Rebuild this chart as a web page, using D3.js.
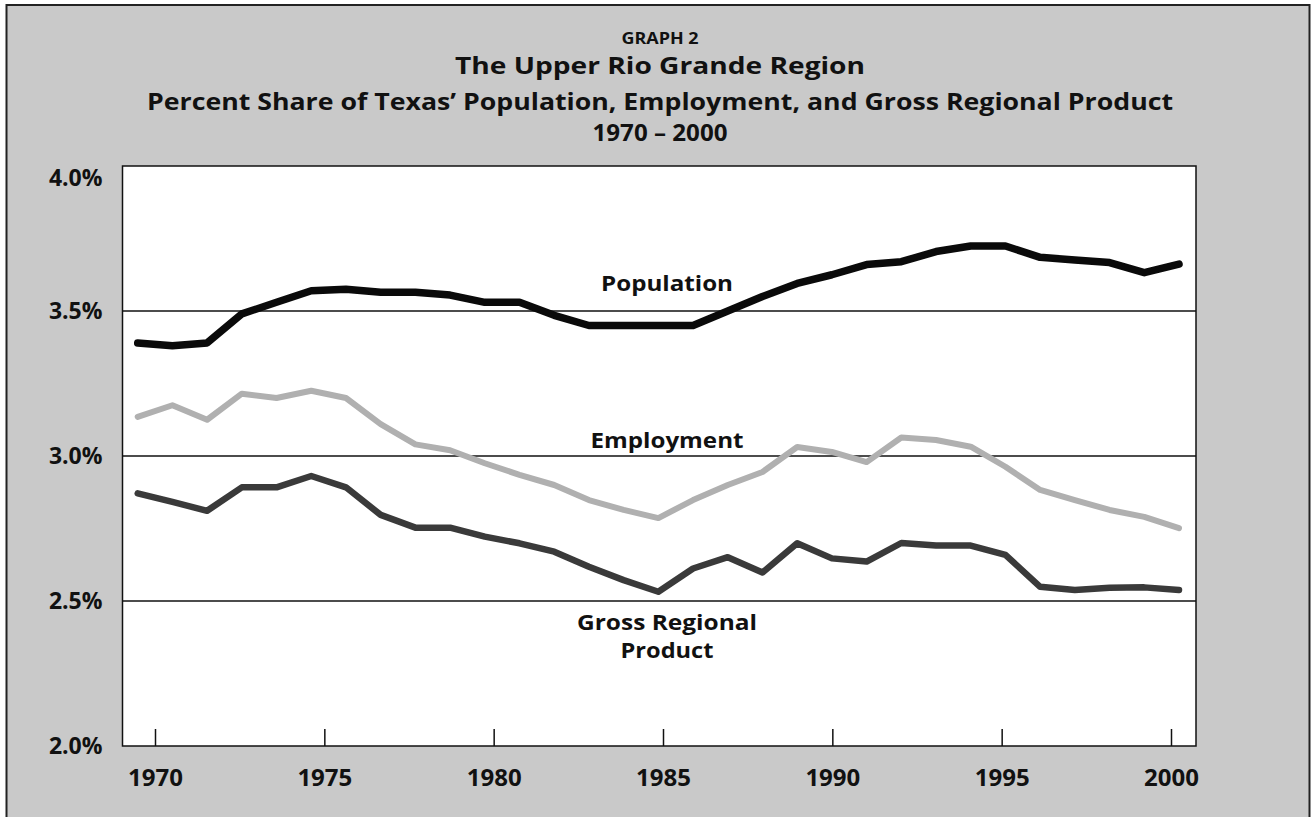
<!DOCTYPE html>
<html>
<head>
<meta charset="utf-8">
<script src="https://cdn.jsdelivr.net/npm/d3@7"></script>
<style>
  body { margin: 0; background: #fff; }
  svg { display: block; font-family: "Open Sans", "Noto Sans", sans-serif; font-weight: 700; }
</style>
</head>
<body>
<svg id="canvas" width="1315" height="817"></svg>
<script>
// values (percent share of Texas)
var years = [1970, 1971, 1972, 1973, 1974, 1975, 1976, 1977, 1978, 1979,
             1980, 1981, 1982, 1983, 1984, 1985, 1986, 1987, 1988, 1989,
             1990, 1991, 1992, 1993, 1994, 1995, 1996, 1997, 1998, 1999, 2000];

var population = [3.39, 3.38, 3.39, 3.49, 3.53, 3.57, 3.575, 3.565, 3.565, 3.555,
                  3.53, 3.53, 3.485, 3.45, 3.45, 3.45, 3.45, 3.50, 3.55, 3.595,
                  3.625, 3.66, 3.67, 3.705, 3.724, 3.724, 3.685, 3.676, 3.667, 3.632, 3.662];

var employment = [3.135, 3.175, 3.125, 3.215, 3.20, 3.225, 3.20, 3.11, 3.04, 3.02,
                  2.975, 2.935, 2.90, 2.848, 2.814, 2.786, 2.848, 2.90, 2.945, 3.031,
                  3.014, 2.979, 3.064, 3.055, 3.032, 2.963, 2.883, 2.848, 2.814, 2.79, 2.751];

var grp = [2.871, 2.842, 2.811, 2.892, 2.892, 2.931, 2.892, 2.797, 2.753, 2.753,
           2.722, 2.699, 2.67, 2.618, 2.572, 2.532, 2.612, 2.651, 2.598, 2.699,
           2.647, 2.636, 2.70, 2.691, 2.691, 2.659, 2.549, 2.538, 2.546, 2.547, 2.538];

var xTicks = [1970, 1975, 1980, 1985, 1990, 1995, 2000];
var yTicks = [2.0, 2.5, 3.0, 3.5, 4.0];
var gridValues = [2.5, 3.0, 3.5];

var titleLines = ["GRAPH 2",
                  "The Upper Rio Grande Region",
                  "Percent Share of Texas\u2019 Population, Employment, and Gross Regional Product",
                  "1970 \u2013 2000"];

var series = [
  { name: "Employment", values: employment, color: "#b0b0b0", width: 6 },
  { name: "Gross Regional Product", values: grp, color: "#3a3a3a", width: 6.5 },
  { name: "Population", values: population, color: "#0a0a0a", width: 7.5 }
];

var seriesLabels = [
  { lines: ["Population"], value: 3.5, dy: [-20], widths: [132] },
  { lines: ["Employment"], value: 3.0, dy: [-8], widths: [153] },
  { lines: ["Gross Regional", "Product"], value: 2.5, dy: [29, 57], widths: [180, 93] }
];

var svg = d3.select("#canvas");
var plot = { left: 122.5, right: 1196, top: 166, bottom: 746 };

// the scanned chart has its data points spread slightly wider than the tick marks
var x = d3.scaleLinear().domain([1970, 2000]).range([137.7, 1179]);
var xAxisScale = d3.scaleLinear().domain([1970, 2000]).range([155, 1171]);
var y = d3.scaleLinear().domain([2.0, 4.0]).range([plot.bottom, plot.top]);

// grey panel
svg.append("rect")
  .attr("x", 6.5).attr("y", 5)
  .attr("width", 1303).attr("height", 840)
  .attr("fill", "#c9c9c9")
  .attr("stroke", "#222").attr("stroke-width", 2);

// title - the printed face is wider than Open Sans, so stretch to the measured widths
var titleSizes = [16.5, 22.5, 22.5, 22.5];
var titleBase = [44, 74, 110, 141];
var titleWidths = [77, 410, 1026, 135];
svg.selectAll(".title")
  .data(titleLines)
  .enter().append("text")
    .attr("class", "title")
    .attr("x", 660)
    .attr("y", function(d, i) { return titleBase[i]; })
    .attr("text-anchor", "middle")
    .attr("font-size", function(d, i) { return titleSizes[i]; })
    .attr("textLength", function(d, i) { return titleWidths[i]; })
    .attr("lengthAdjust", "spacingAndGlyphs")
    .attr("fill", "#111")
    .text(function(d) { return d; });

// plot area
svg.append("rect")
  .attr("x", plot.left).attr("y", plot.top)
  .attr("width", plot.right - plot.left).attr("height", plot.bottom - plot.top)
  .attr("fill", "#fff")
  .attr("stroke", "#111").attr("stroke-width", 1.5);

svg.selectAll(".grid")
  .data(gridValues)
  .enter().append("line")
    .attr("class", "grid")
    .attr("x1", plot.left).attr("x2", plot.right)
    .attr("y1", function(d) { return y(d); })
    .attr("y2", function(d) { return y(d); })
    .attr("stroke", "#111").attr("stroke-width", 1.5);

// y axis labels
var yAxis = svg.append("g")
  .attr("transform", "translate(" + plot.left + ",0)")
  .call(d3.axisLeft(y).tickValues(yTicks).tickSize(0).tickPadding(20)
    .tickFormat(function(d) { return d.toFixed(1) + "%"; }))
  .attr("font-family", null)
  .attr("font-size", 23);
yAxis.select(".domain").remove();
yAxis.selectAll("text").attr("fill", "#111");
// top label sits a little below the frame in the original
yAxis.selectAll(".tick").filter(function(d) { return d === 4.0; })
  .select("text").attr("dy", "0.85em");

// x axis, ticks pointing up into the plot
var xAxis = svg.append("g")
  .attr("transform", "translate(0," + plot.bottom + ")")
  .call(d3.axisBottom(xAxisScale).tickValues(xTicks).tickSize(-17).tickPadding(23)
    .tickFormat(d3.format("d")))
  .attr("font-family", null)
  .attr("font-size", 24);
xAxis.select(".domain").remove();
xAxis.selectAll("line").attr("stroke", "#111").attr("stroke-width", 1.5);
xAxis.selectAll("text").attr("fill", "#111");

// lines
var line = d3.line()
  .x(function(d, i) { return x(years[i]); })
  .y(function(d) { return y(d); });

svg.selectAll(".series")
  .data(series)
  .enter().append("path")
    .attr("class", "series")
    .attr("d", function(d) { return line(d.values); })
    .attr("fill", "none")
    .attr("stroke", function(d) { return d.color; })
    .attr("stroke-width", function(d) { return d.width; })
    .attr("stroke-linejoin", "round")
    .attr("stroke-linecap", "round");

// in-chart labels
seriesLabels.forEach(function(s) {
  s.lines.forEach(function(t, i) {
    svg.append("text")
      .attr("x", 667)
      .attr("y", y(s.value) + s.dy[i])
      .attr("text-anchor", "middle")
      .attr("font-size", 20.5)
      .attr("textLength", s.widths[i])
      .attr("lengthAdjust", "spacingAndGlyphs")
      .attr("fill", "#111")
      .text(t);
  });
});
</script>
</body>
</html>
